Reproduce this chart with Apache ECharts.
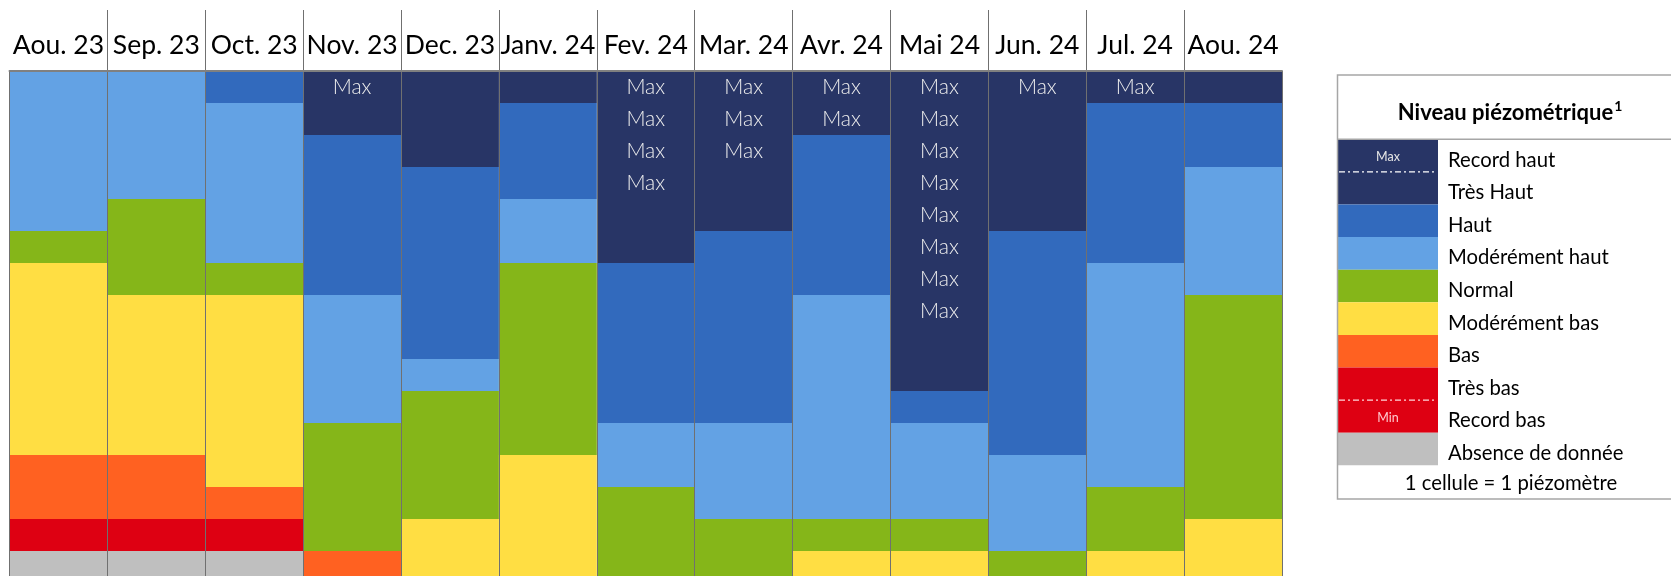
<!DOCTYPE html>
<html>
<head>
<meta charset="utf-8">
<script src="https://cdn.jsdelivr.net/npm/echarts@6/dist/echarts.min.js"></script>
<style>
html,body{margin:0;padding:0;background:#fff;}
#chart{width:1671px;height:576px;}
</style>
</head>
<body>
<div id="chart"></div>
<script>
// Months (columns)
const categories = ['Aou. 23','Sep. 23','Oct. 23','Nov. 23','Dec. 23','Janv. 24','Fev. 24','Mar. 24','Avr. 24','Mai 24','Jun. 24','Jul. 24','Aou. 24'];
// Number of piezometers (cells) per level and month
const recordHaut     = [0,0,0,1,0,0,4,3,2,8,1,1,0];
const tresHaut       = [0,0,0,1,3,1,2,2,0,2,4,0,1];
const haut           = [0,0,1,5,6,3,5,6,5,1,7,5,2];
const moderementHaut = [5,4,5,4,1,2,2,3,7,3,3,7,4];
const normal         = [1,3,1,4,4,6,3,2,1,1,1,2,7];
const moderementBas  = [6,5,6,0,2,4,0,0,1,1,0,1,2];
const bas            = [2,2,1,1,0,0,0,0,0,0,0,0,0];
const tresBas        = [1,1,1,0,0,0,0,0,0,0,0,0,0];
const recordBas      = [0,0,0,0,0,0,0,0,0,0,0,0,0];
const absence        = [1,1,1,0,0,0,0,0,0,0,0,0,0];

const levelNames = ['Record haut','Très Haut','Haut','Modérément haut','Normal','Modérément bas','Bas','Très bas','Record bas','Absence de donnée'];
const levelData = [recordHaut,tresHaut,haut,moderementHaut,normal,moderementBas,bas,tresBas,recordBas,absence];
const levelColors = ['#283566','#283566','#326abd','#63a2e4','#85b619','#ffde43','#ff6121','#de0012','#de0012','#bfbfbf'];

const FONT = 'Lato, "Open Sans", sans-serif';

const chart = echarts.init(document.getElementById('chart'), null, {renderer:'canvas'});

const barSeries = levelNames.map((name, i) => ({
  name: name,
  type: 'bar',
  stack: 'cells',
  xAxisIndex: 0,
  yAxisIndex: 0,
  barCategoryGap: '0%',
  barWidth: '100%',
  silent: true,
  itemStyle: {color: levelColors[i]},
  data: levelData[i]
}));

const legendGraphics = [
  {type: 'rect', z: 100, silent: true, shape: {x: 1337.5, y: 75, width: 400, height: 424}, style: {fill: 'none', stroke: '#a6a6a6', lineWidth: 1.5}},
  {type: 'line', z: 100, silent: true, shape: {x1: 1337.5, y1: 139.3, x2: 1671, y2: 139.3}, style: {stroke: '#a6a6a6', lineWidth: 1.5}},
  {type: 'text', z: 100, silent: true, x: 1510, y: 112.5, style: {
    text: '{t|Niveau piézométrique}{s|1}', textAlign: 'center', textVerticalAlign: 'middle',
    rich: {
      t: {fontSize: 22, fontWeight: 'bold', fontFamily: FONT, fill: '#000', color: '#000'},
      s: {fontSize: 14, fontWeight: 'bold', fontFamily: FONT, fill: '#000', color: '#000', verticalAlign: 'top', padding: [0,0,12,1]}
    }
  }},
  {type: 'text', z: 100, silent: true, x: 1388, y: 156.5, style: {text: 'Max', fontSize: 12.5, fontFamily: FONT, fill: '#e6e6e6', textAlign: 'center', textVerticalAlign: 'middle'}},
  {type: 'line', z: 100, silent: true, shape: {x1: 1339, y1: 171.8, x2: 1437, y2: 171.8}, style: {stroke: '#ffffff', lineWidth: 1.3, lineDash: [6,3,2,3]}},
  {type: 'line', z: 100, silent: true, shape: {x1: 1339, y1: 400.1, x2: 1437, y2: 400.1}, style: {stroke: '#ffd6da', lineWidth: 1.3, lineDash: [6,3,2,3]}},
  {type: 'text', z: 100, silent: true, x: 1388, y: 417.5, style: {text: 'Min', fontSize: 12.5, fontFamily: FONT, fill: '#ffc9ce', textAlign: 'center', textVerticalAlign: 'middle'}},
  {type: 'text', z: 100, silent: true, x: 1511, y: 483, style: {text: '1 cellule = 1 piézomètre', fontSize: 20.3, fontFamily: FONT, fill: '#000', textAlign: 'center', textVerticalAlign: 'middle'}}
];

const option = {
  animation: false,
  textStyle: {fontFamily: FONT},
  grid: [
    {left: 9.5, width: 1272.5, top: 71, height: 512, outerBoundsMode: 'none', containLabel: false},
    {left: 9.5, width: 1272.5, top: 10, height: 61, outerBoundsMode: 'none', containLabel: false}
  ],
  xAxis: [
    {
      type: 'category', gridIndex: 0, data: categories, position: 'top', z: 10,
      boundaryGap: true,
      axisLine: {show: true, lineStyle: {color: '#808080', width: 2}},
      axisTick: {show: false},
      axisLabel: {show: false},
      splitLine: {show: true, interval: 0, showMinLine: true, showMaxLine: true, lineStyle: {color: '#707070', width: 1}}
    },
    {
      type: 'category', gridIndex: 1, data: categories, position: 'bottom', z: 10,
      boundaryGap: true,
      axisLine: {show: false},
      axisTick: {show: false},
      axisLabel: {show: true, interval: 0, inside: true, margin: 26, verticalAlign: 'middle', fontSize: 26.5, fontFamily: FONT, color: '#000'},
      splitLine: {show: true, interval: 0, showMinLine: false, showMaxLine: false, lineStyle: {color: '#707070', width: 1}}
    }
  ],
  yAxis: [
    {type: 'value', gridIndex: 0, inverse: true, min: 0, max: 16, show: false},
    {type: 'value', gridIndex: 1, min: 0, max: 1, show: false}
  ],
  legend: {
    data: levelNames,
    orient: 'vertical',
    left: 1338,
    top: 139.3,
    padding: 0,
    itemWidth: 100,
    itemHeight: 32.6,
    itemGap: 0,
    icon: 'rect',
    selectedMode: false,
    itemStyle: {borderWidth: 0},
    formatter: '{a|{name}}',
    textStyle: {rich: {a: {fontSize: 20.3, fontFamily: FONT, color: '#000', padding: [9,0,0,5]}}}
  },
  series: barSeries,
  graphic: legendGraphics
};
chart.setOption(option);

// "Max" labels placed through the chart's own axes
const maxGraphics = [];
recordHaut.forEach(function (n, i) {
  for (let k = 0; k < n; k++) {
    const p = chart.convertToPixel({xAxisIndex: 0, yAxisIndex: 0}, [i, k + 0.5]);
    maxGraphics.push({type: 'text', z: 50, silent: true, x: p[0], y: p[1],
      style: {text: 'Max', fill: '#eeeeee', fontSize: 21, fontFamily: FONT, fontWeight: 300, textAlign: 'center', textVerticalAlign: 'middle'}});
  }
});
chart.setOption({graphic: legendGraphics.concat(maxGraphics)});
</script>
</body>
</html>
